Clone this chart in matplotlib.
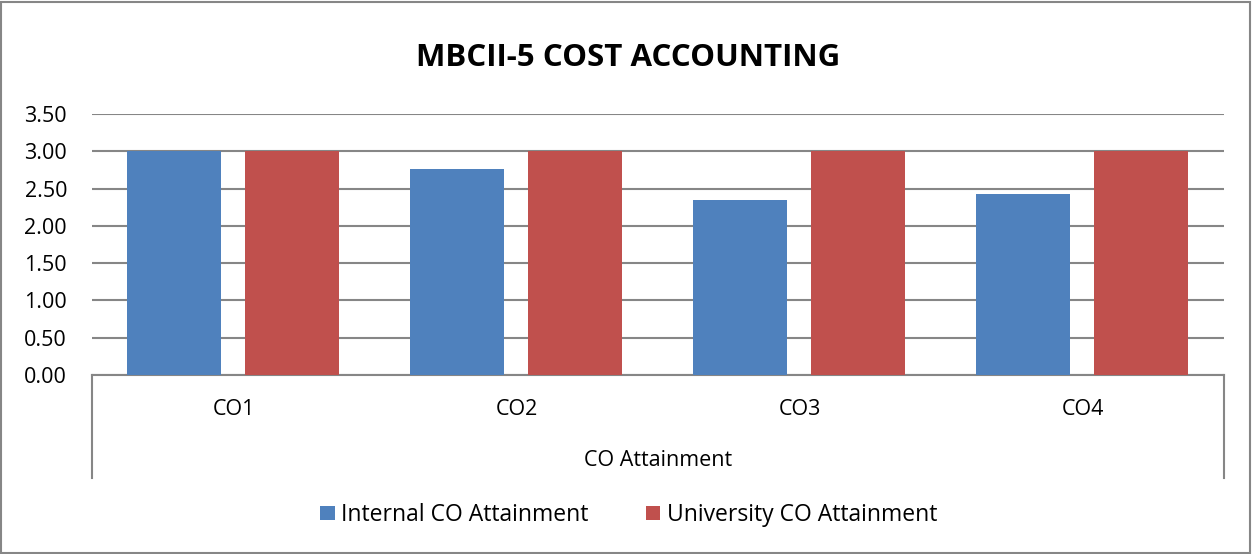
import numpy as np
import matplotlib.pyplot as plt
from matplotlib.patches import Rectangle

# chart data
categories = ['CO1', 'CO2', 'CO3', 'CO4']
internal = [3.00, 2.76, 2.35, 2.43]
university = [3.00, 3.00, 3.00, 3.00]
yticks = [0.0, 0.5, 1.0, 1.5, 2.0, 2.5, 3.0, 3.5]

plt.rcParams['font.family'] = ['Open Sans', 'DejaVu Sans']

fig = plt.figure(figsize=(12.53, 5.54), dpi=100)
ax = fig.add_axes([92/1253, 1 - 375/554, (1224 - 92)/1253, (375 - 114)/554])

x = np.arange(len(categories))
w = 0.332
ax.bar(x - 0.21, internal, w, color='#4F81BD', label='Internal CO Attainment', zorder=3)
ax.bar(x + 0.207, university, w, color='#C0504D', label='University CO Attainment', zorder=3)

ax.set_xlim(-0.5, len(categories) - 0.5)
ax.set_ylim(0, 3.5)
ax.set_yticks(yticks)
ax.set_yticklabels(['%.2f' % v for v in yticks], fontsize=15.5)
ax.set_xticks(x)
ax.set_xticklabels(categories, fontsize=15.5)
ax.tick_params(axis='y', length=0, pad=18)
ax.tick_params(axis='x', length=0, pad=17)
ax.grid(axis='y', color='#868686', linewidth=1.5, zorder=0)
for s in ['top', 'right', 'left']:
    ax.spines[s].set_visible(False)
ax.spines['bottom'].set_color('#868686')
ax.spines['bottom'].set_linewidth(1.5)

# frame lines around the category area
for xx in [0, 1]:
    ax.plot([xx, xx], [0, -0.395], transform=ax.transAxes, clip_on=False,
            color='#868686', linewidth=1.5)

fig.text(0.5 * (92 + 1224) / 1253, 1 - 461/554, 'CO Attainment', ha='center', va='center', fontsize=15.5)
fig.text(0.501, 1 - 58/554, 'MBCII-5 COST ACCOUNTING', ha='center', va='center',
         fontsize=22.5, fontweight='bold')

fig.legend(loc='center', bbox_to_anchor=(629/1253, 1 - 515/554), ncol=2, frameon=False,
           fontsize=16.5, handlelength=0.62, handleheight=0.62, handletextpad=0.3, columnspacing=2.5)

# outer chart border
fig.add_artist(Rectangle((0.001, 0.002), 0.997, 0.995, transform=fig.transFigure,
                         fill=False, edgecolor='#868686', linewidth=1.5))

fig.savefig('out.png', dpi=100)
